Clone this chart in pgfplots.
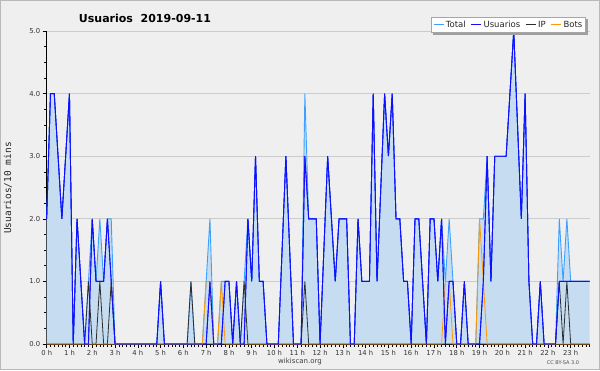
\documentclass[border=0pt]{standalone}
\usepackage{pgfplots}
\pgfplotsset{compat=1.18}
\usepackage{pgfplotstable}
\usepackage{fontspec}
\setmainfont{DejaVu Sans}
\newfontfamily\monofont{DejaVu Sans Mono}
\definecolor{bgcol}{RGB}{239,239,240}
\definecolor{fillcol}{RGB}{198,221,241}
\definecolor{totcol}{RGB}{60,160,255}
\definecolor{usucol}{RGB}{15,15,255}
\definecolor{ipcol}{RGB}{45,45,45}
\definecolor{botcol}{RGB}{255,153,0}

\pgfplotstableread{
i u ip b t
0 2 0 0 2
1 4 0 0 4
2 4 0 0 4
3 3 0 0 3
4 2 0 0 2
5 3 0 0 3
6 4 0 0 4
7 0 0 0 0
8 2 0 0 2
9 1 0 0 1
10 0 0 0 0
11 0 1 0 1
12 2 0 0 2
13 1 0 0 1
14 1 1 0 2
15 1 0 0 1
16 2 0 0 2
17 1 1 0 2
18 0 0 0 0
19 0 0 0 0
20 0 0 0 0
21 0 0 0 0
22 0 0 0 0
23 0 0 0 0
24 0 0 0 0
25 0 0 0 0
26 0 0 0 0
27 0 0 0 0
28 0 0 0 0
29 0 0 0 0
30 1 0 0 1
31 0 0 0 0
32 0 0 0 0
33 0 0 0 0
34 0 0 0 0
35 0 0 0 0
36 0 0 0 0
37 0 0 0 0
38 0 1 0 1
39 0 0 0 0
40 0 0 0 0
41 0 0 0 0
42 0 0 1 1
43 1 0 1 2
44 0 0 0 0
45 0 0 0 0
46 0 0 1 1
47 1 0 0 1
48 1 0 0 1
49 0 0 0 0
50 1 0 0 1
51 0 0 0 0
52 0 1 0 1
53 2 0 0 2
54 1 0 0 1
55 3 0 0 3
56 1 0 0 1
57 1 0 0 1
58 0 0 0 0
59 0 0 0 0
60 0 0 0 0
61 0 0 0 0
62 1.5 0 0 1.5
63 3 0 0 3
64 1.5 0 0 1.5
65 0 0 0 0
66 0 0 0 0
67 0 0 0 0
68 3 1 0 4
69 2 0 0 2
70 2 0 0 2
71 2 0 0 2
72 0 0 0 0
73 1.5 0 0 1.5
74 3 0 0 3
75 2 0 0 2
76 1 0 0 1
77 2 0 0 2
78 2 0 0 2
79 2 0 0 2
80 0 0 0 0
81 0 0 0 0
82 2 0 0 2
83 1 0 0 1
84 1 0 0 1
85 1 0 0 1
86 4 0 0 4
87 1 0 0 1
88 2.5 0 0 2.5
89 4 0 0 4
90 3 0 0 3
91 4 0 0 4
92 2 0 0 2
93 2 0 0 2
94 1 0 0 1
95 1 0 0 1
96 0 0 0 0
97 2 0 0 2
98 2 0 0 2
99 1 0 0 1
100 0 0 0 0
101 2 0 0 2
102 2 0 0 2
103 1 0 0 1
104 2 0 0 2
105 0 0 1 1
106 1 0 1 2
107 1 0 0 1
108 0 0 0 0
109 0 0 0 0
110 1 0 0 1
111 0 0 0 0
112 0 0 0 0
113 0 0 0 0
114 0 0 2 2
115 1 0 1 2
116 3 0 0 3
117 1 0 0 1
118 3 0 0 3
119 3 0 0 3
120 3 0 0 3
121 3 0 0 3
122 4 0 0 4
123 5 0 0 5
124 3.5 0 0 3.5
125 2 0 0 2
126 4 0 0 4
127 1 0 0 1
128 0 0 0 0
129 0 0 0 0
130 1 0 0 1
131 0 0 0 0
132 0 0 0 0
133 0 0 0 0
134 0 0 0 0
135 1 1 0 2
136 1 0 0 1
137 1 1 0 2
138 1 0 0 1
139 1 0 0 1
140 1 0 0 1
141 1 0 0 1
142 1 0 0 1
143 1 0 0 1
}\datatable

\begin{document}
\begin{tikzpicture}
\fill[bgcol] (0,0) rectangle (600pt,370pt);
\draw[gray!55, line width=0.8pt] (0.4pt,0.4pt) rectangle (599.6pt,369.6pt);
\begin{axis}[
  at={(46.67pt,26pt)}, anchor=south west,
  scale only axis, width=543pt, height=313pt,
  xmin=0, xmax=143, ymin=0, ymax=5,
  axis x line*=bottom, axis y line*=left,
  axis line style={black, line width=0.8pt, -},
  tick align=outside,
  major tick length=4pt, minor tick length=2.5pt,
  tick style={black, line width=0.6pt},
  xtick={0,6,...,138},
  xticklabels={0 h,1 h,2 h,3 h,4 h,5 h,6 h,7 h,8 h,9 h,10 h,11 h,12 h,13 h,14 h,15 h,16 h,17 h,18 h,19 h,20 h,21 h,22 h,23 h},
  minor xtick={0,...,143},
  ytick={0,1,2,3,4,5},
  yticklabels={0.0,1.0,2.0,3.0,4.0,5.0},
  minor y tick num=3,
  ticklabel style={font=\fontsize{6.8}{7}\selectfont, text=black!80},
  xticklabel style={yshift=1pt},
  yticklabel style={xshift=1pt},
  ymajorgrids, major grid style={gray!40, line width=0.7pt},
  legend style={name=leg, at={(rel axis cs:1,1)}, anchor=north east, xshift=-3.5pt, yshift=14pt,
    legend columns=4, font=\fontsize{8.5}{9.5}\selectfont, draw=gray!70, fill=white,
    inner sep=1.5pt, line width=0.7pt, text=black!85,
    /tikz/every even column/.append style={column sep=3pt}},
  legend image code/.code={\draw[#1, line width=0.8pt] (0pt,0pt) -- (10pt,0pt);},
  clip=false,
]
\addplot[draw=none, fill=fillcol, forget plot] table[x=i, y=t] {\datatable} \closedcycle;
\addplot[totcol, line width=0.9pt] table[x=i, y=t] {\datatable};
\addlegendentry{Total}
\addplot[usucol, line width=0.9pt, forget plot] table[x=i, y=u] {\datatable};
\addplot[ipcol, line width=0.8pt, forget plot] table[x=i, y=ip] {\datatable};
\addplot[botcol, line width=0.8pt, forget plot] table[x=i, y=b] {\datatable};
\addlegendimage{usucol}\addlegendentry{Usuarios}
\addlegendimage{ipcol}\addlegendentry{IP}
\addlegendimage{botcol}\addlegendentry{Bots}
\addplot[usucol, line width=0.9pt, forget plot] table[x=i, y=u] {\datatable};
\end{axis}
\draw[gray!75, line width=2pt] ([xshift=1.2pt,yshift=-2pt]leg.north east) -- ([xshift=1.2pt,yshift=-1.2pt]leg.south east) -- ([xshift=2pt,yshift=-1.2pt]leg.south west);
\node[font=\bfseries\fontsize{11}{13}\selectfont] at (145pt,352pt) {Usuarios\ \ 2019-09-11};
\node[rotate=90, font=\monofont\fontsize{9.5}{11}\selectfont, text=black!85] at (8pt,182pt) {Usuarios/10 mins};
\node[font=\fontsize{7}{8}\selectfont, text=black!75] at (300pt,8pt) {wikiscan.org};
\node[font=\fontsize{5}{6}\selectfont, text=black!70] at (563pt,7pt) {CC BY-SA 3.0};
\end{tikzpicture}
\end{document}
